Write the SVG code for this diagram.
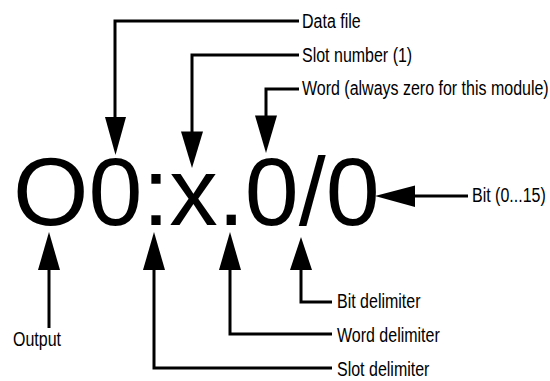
<svg xmlns="http://www.w3.org/2000/svg" width="550" height="381" viewBox="0 0 550 381">
<style>
.big{font-family:"Liberation Sans",Arial,sans-serif;font-size:97px;fill:#000}
.lbl{font-family:"Liberation Sans",Arial,sans-serif;font-size:19.5px;fill:#000}
.ln{fill:none;stroke:#000;stroke-width:3;stroke-linejoin:miter}
.hd{fill:#000;stroke:none}
</style>
<rect width="550" height="381" fill="#fff"/>
<g id="address">
<text class="big" x="13" y="225">O0:x.0/0</text>
</g>
<g id="connectors">
<path class="ln" d="M299,21 H115 V120"/>
<polygon class="hd" points="105,117 126,117 115.5,155"/>
<path class="ln" d="M299,55 H192 V134"/>
<polygon class="hd" points="181,131.5 203,131.5 192,168"/>
<path class="ln" d="M299,89 H266 V118"/>
<polygon class="hd" points="255,115.5 277,115.5 266,153"/>
<path class="ln" d="M468,196 H412"/>
<polygon class="hd" points="415,185.5 415,207 375,196"/>
<path class="ln" d="M49,268 V328"/>
<polygon class="hd" points="38,270 60,270 49,232"/>
<path class="ln" d="M154,268 V368 H332"/>
<polygon class="hd" points="143,270 165,270 154,232"/>
<path class="ln" d="M230,268 V334 H332"/>
<polygon class="hd" points="219,270 241,270 230,232"/>
<path class="ln" d="M301,268 V302 H332"/>
<polygon class="hd" points="290,270 312,270 301,237"/>
</g>
<g id="label-data-file"><text class="lbl" transform="translate(302,27.5) scale(0.82,1)">Data file</text></g>
<g id="label-slot-number"><text class="lbl" transform="translate(302,61.5) scale(0.82,1)">Slot number (1)</text></g>
<g id="label-word"><text class="lbl" transform="translate(302,95) scale(0.82,1)">Word (always zero for this module)</text></g>
<g id="label-bit"><text class="lbl" transform="translate(472,202) scale(0.82,1)">Bit (0...15)</text></g>
<g id="label-bit-delimiter"><text class="lbl" transform="translate(337,308) scale(0.82,1)">Bit delimiter</text></g>
<g id="label-word-delimiter"><text class="lbl" transform="translate(337,342) scale(0.82,1)">Word delimiter</text></g>
<g id="label-slot-delimiter"><text class="lbl" transform="translate(337,376) scale(0.82,1)">Slot delimiter</text></g>
<g id="label-output"><text class="lbl" transform="translate(13,346) scale(0.82,1)">Output</text></g>
</svg>
